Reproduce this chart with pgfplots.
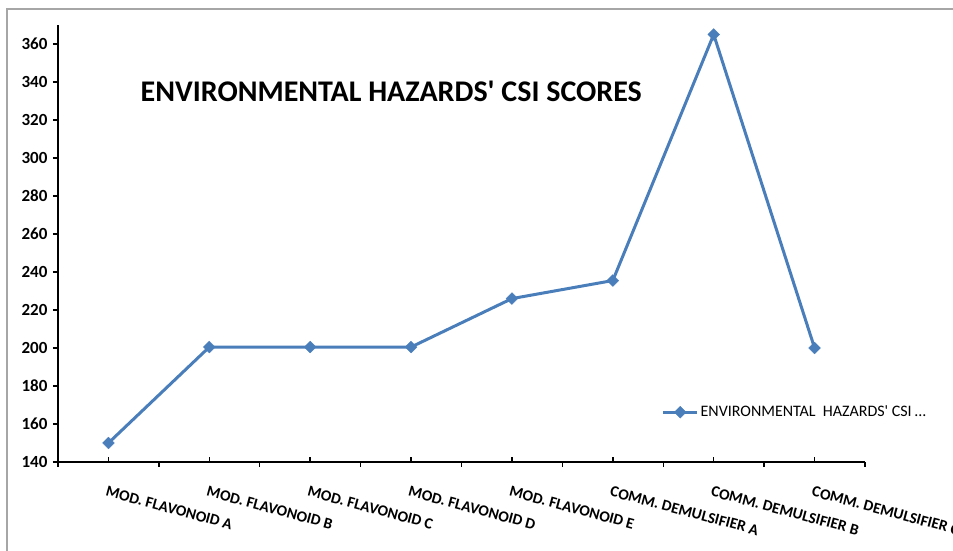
\documentclass[border=0pt]{standalone}
\usepackage{pgfplots}
\pgfplotsset{compat=1.18}
\usepackage{fontspec}
\setmainfont{Carlito}
\definecolor{serblue}{HTML}{4A7EBB}
\begin{document}
\begin{tikzpicture}[x=1bp,y=1bp]
\useasboundingbox (0,0) rectangle (953,551);
\clip (0,0) rectangle (953,551);
\draw[color=black!35, line width=1.5bp] (7,-5) -- (7,542) -- (960,542);
\begin{axis}[
  at={(58bp,89bp)}, anchor=south west,
  scale only axis, width=807bp, height=437bp,
  xmin=-0.5, xmax=7.5, ymin=140, ymax=370,
  axis x line=bottom, axis y line=left,
  axis line style={line width=1.6bp, -},
  xtick={-0.5,0.5,...,7.5},
  xticklabels={},
  extra x ticks={0,1,2,3,4,5,6,7},
  extra x tick labels={MOD. FLAVONOID A,MOD. FLAVONOID B,MOD. FLAVONOID C,MOD. FLAVONOID D,MOD. FLAVONOID E,COMM. DEMULSIFIER A,COMM. DEMULSIFIER B,COMM. DEMULSIFIER C},
  extra x tick style={tick align=inside, major tick length=4.5bp,
     ticklabel style={rotate=-15, anchor=north west, font=\fontsize{15.5bp}{17bp}\selectfont\bfseries, yshift=-20bp, xshift=2bp}},
  x tick style={line width=1.4bp, black},
  tick align=outside, major tick length=5bp,
  ytick={140,160,...,360},
  y tick style={line width=1.4bp, black},
  yticklabel style={font=\fontsize{17bp}{18bp}\selectfont\bfseries, xshift=-2bp},
  /pgf/number format/assume math mode=true,
  legend style={at={(0.748,0.114)}, anchor=west, draw=none, fill=none,
    font=\fontsize{16bp}{18bp}\selectfont, legend cell align=left, inner sep=0pt},
  legend image code/.code={\draw[#1, line width=2.8bp] (0bp,0bp) -- (34bp,0bp); \draw[#1, mark repeat=1, only marks] plot coordinates {(17bp,0bp)};},
  clip=false,
]
\addplot[color=serblue, line width=3bp, mark=square*, mark size=4.2bp, mark options={fill=serblue, draw=serblue, line width=0.3bp, rotate=45}]
  coordinates {(0,150) (1,200.5) (2,200.5) (3,200.5) (4,226) (5,235.5) (6,365) (7,200)};
\addlegendentry{ENVIRONMENTAL\ \ HAZARDS\textquotesingle\ CSI\,...}
\node[font=\fontsize{30bp}{34bp}\selectfont\bfseries, anchor=center] at (rel axis cs:0.413,0.847) {ENVIRONMENTAL HAZARDS\textquotesingle\ CSI SCORES};
\end{axis}
\end{tikzpicture}
\end{document}
